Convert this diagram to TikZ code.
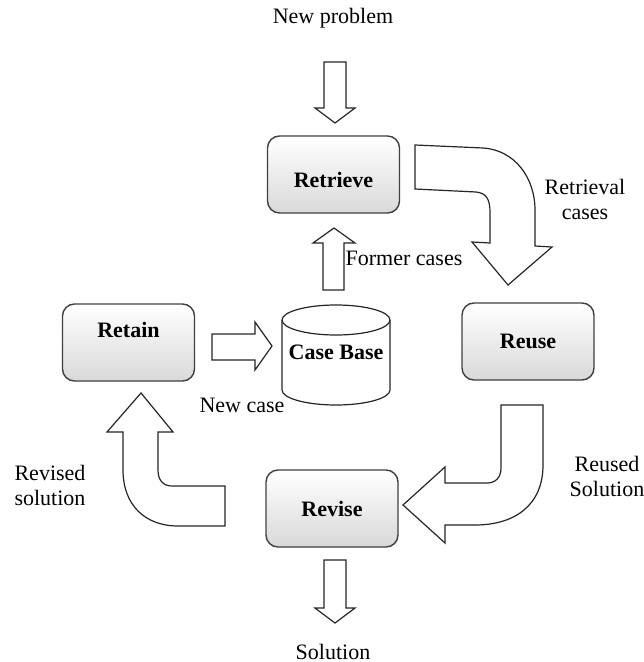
\documentclass[tikz,border=0pt]{standalone}
\usepackage{fontspec}
\setmainfont{Liberation Serif}
\begin{document}
\begin{tikzpicture}[x=0.5pt,y=-0.5pt,
    every node/.style={font=\fontsize{11}{12.5}\selectfont},
    box/.style={draw=black!75,line width=0.7pt,rounded corners=6pt,
      shading=axis,top color=white,bottom color=black!15,
      minimum width=66pt,minimum height=38.5pt,
      font=\fontsize{11}{12.5}\selectfont\bfseries},
    blockarrow/.style={draw=black!85,line width=0.6pt,fill=white,line join=miter}]
  \useasboundingbox (0,0) rectangle (643,662);

  % the four steps
  \node[box,text height=13pt,text depth=0pt] (retrieve) at (333.5,174.5) {Retrieve};
  \node[box] (reuse) at (528,341.5) {Reuse};
  \node[box] (revise) at (332,508.5) {Revise};
  \node[box,text height=7.5pt,text depth=12.5pt] (retain) at (128.5,342.5) {Retain};

  % case base
  \draw[black!85,line width=0.6pt] (282,320) -- (282,390)
        arc[start angle=180,end angle=360,x radius=27pt,y radius=7.5pt] -- (390,320);
  \draw[black!85,line width=0.6pt] (336,320) ellipse [x radius=27pt,y radius=7.5pt];
  \node[font=\fontsize{11}{12.5}\selectfont\bfseries] (casebase) at (336,352) {Case Base};

  % straight block arrows
  \draw[blockarrow] (324,62) -- (346,62) -- (346,108) -- (355,108) -- (335,123)
        -- (315,108) -- (324,108) -- cycle;
  \draw[blockarrow] (323,290) -- (344,290) -- (344,243) -- (355,243) -- (334,228)
        -- (313,243) -- (323,243) -- cycle;
  \draw[blockarrow] (212,334) -- (255,334) -- (255,322) -- (272,346) -- (255,370)
        -- (255,360) -- (212,360) -- cycle;
  \draw[blockarrow] (324,560) -- (346,560) -- (346,608) -- (355,608) -- (335,623)
        -- (315,608) -- (324,608) -- cycle;

  % curved block arrows
  \draw[blockarrow] (415,145) -- (483,148) .. controls (515,150) and (535,178) .. (535,210)
        -- (535,246) -- (552,247) -- (508,285) -- (472,242) -- (490,243) -- (490,212)
        .. controls (490,199) and (486,193) .. (476,192) -- (415,189) -- cycle;
  \draw[blockarrow] (501,405) -- (543,405) -- (543,465) .. controls (543,505) and (515,525) .. (475,525)
        -- (445,525) -- (445,543) -- (403,505) -- (445,467) -- (445,483) -- (487,483)
        .. controls (496,483) and (501,477) .. (501,468) -- cycle;
  \draw[blockarrow] (141,393) -- (173,432) -- (158,432) -- (158,470)
        .. controls (158,480) and (163,486) .. (172,486) -- (225,486) -- (225,526)
        -- (178,526) .. controls (145,526) and (123,505) .. (123,470) -- (123,432)
        -- (107,432) -- cycle;

  % labels
  \node (newproblem) at (333,18) {New problem};
  \node (retrieved) at (585,199) [align=center] {Retrieval\\cases};
  \node (former) at (404,258) {Former cases};
  \node (newcase) at (242,405) {New case};
  \node (reused) at (607,476) [align=center] {Reused\\Solution};
  \node (revised) at (50,485) [align=center] {Revised\\solution};
  \node (solution) at (333,652) {Solution};
\end{tikzpicture}
\end{document}
